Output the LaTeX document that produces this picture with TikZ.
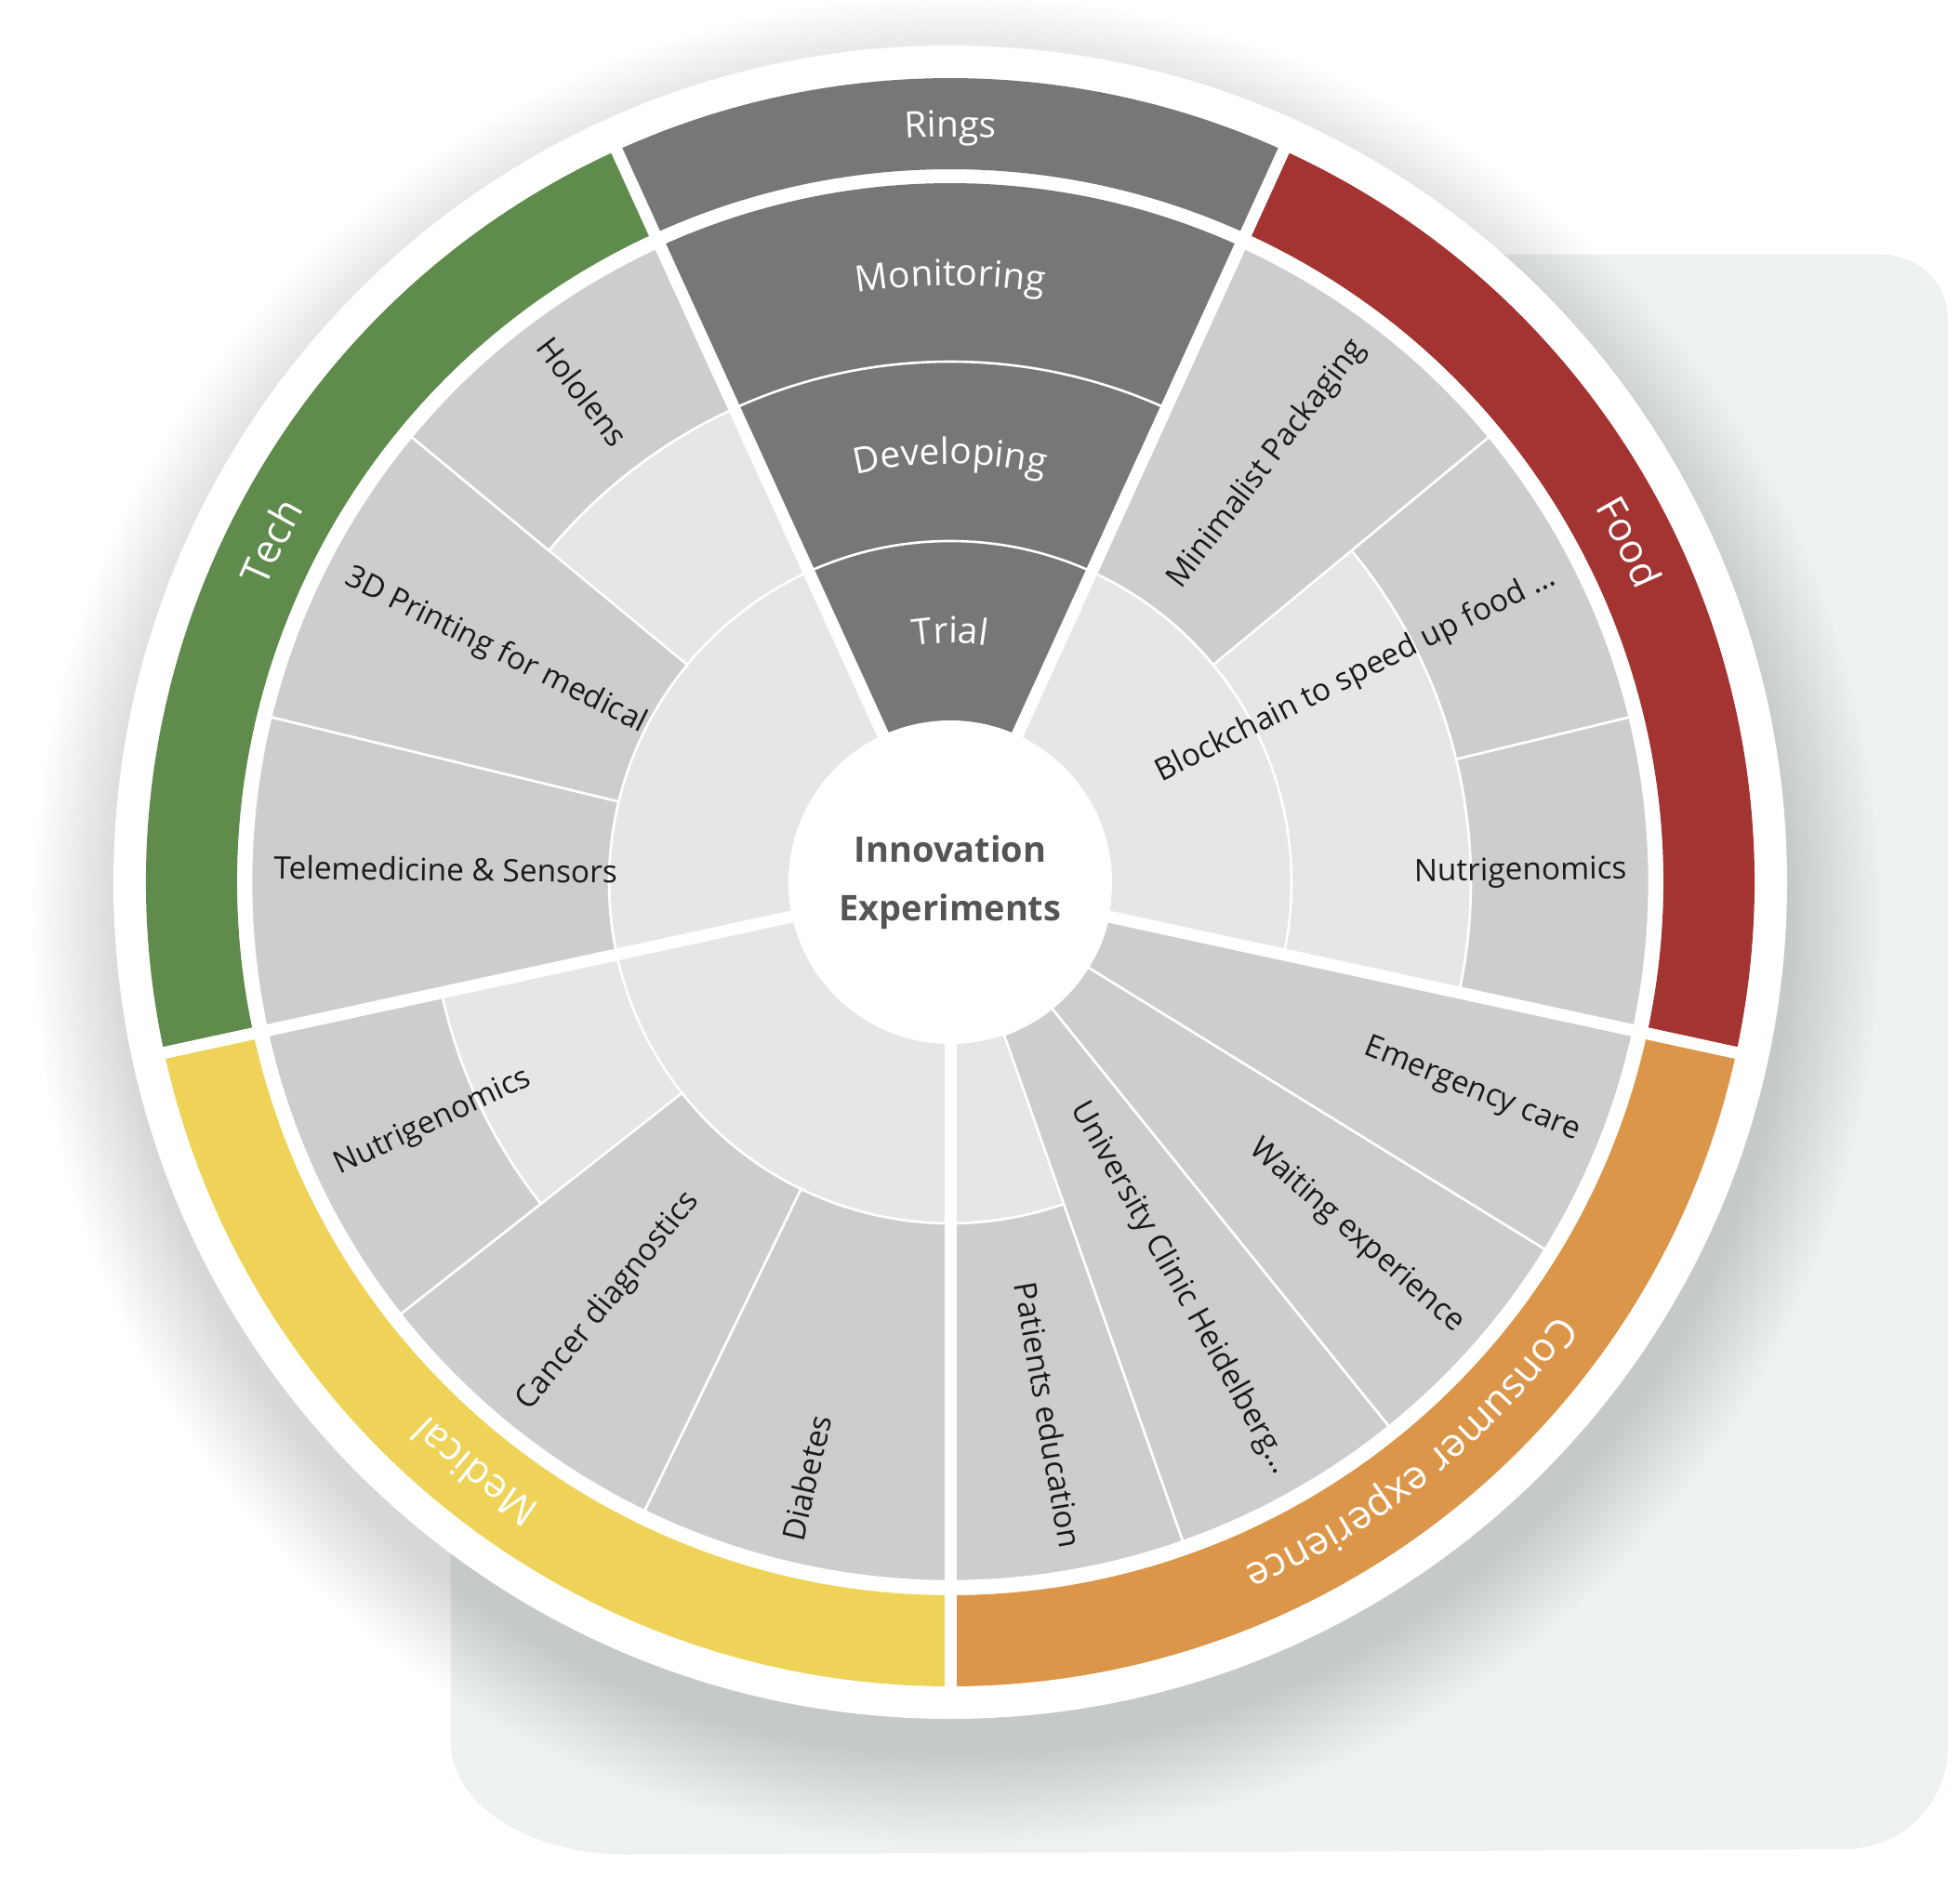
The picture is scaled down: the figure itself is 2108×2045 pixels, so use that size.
\documentclass[tikz,border=0pt]{standalone}
\usepackage{fontspec}
\setmainfont{Open Sans}
\usetikzlibrary{decorations.text}
\definecolor{techgreen}{HTML}{5F8B4C}
\definecolor{foodred}{HTML}{A33432}
\definecolor{consorange}{HTML}{DC9649}
\definecolor{medyellow}{HTML}{EED358}
\definecolor{ringgray}{HTML}{777777}
\definecolor{itemgray}{HTML}{CDCDCD}
\definecolor{lightgraytwo}{HTML}{E6E6E6}
\definecolor{bgblue}{HTML}{EEF1F1}
\definecolor{centertext}{HTML}{555555}
\definecolor{itemtext}{HTML}{1A1A1A}
% #1 style, #2 start angle, #3 end angle, #4 inner radius, #5 outer radius
\newcommand\annsector[5]{\fill[#1] (#2:#4) -- (#2:#5) arc[start angle=#2, end angle=#3, radius=#5] -- (#3:#4) arc[start angle=#3, end angle=#2, radius=#4] -- cycle;}
\newcommand\bandfont{\color{white}\fontsize{21.5}{25}\selectfont}
\newcommand\ringfont{\color{white}\fontsize{19.5}{23}\selectfont}
\tikzset{
  itemsec/.style={itemgray, draw=white, line width=1.3pt},
  thinwhite/.style={draw=white, line width=1.3pt},
  sepline/.style={draw=white, line width=6.5pt},
  itemlabel/.style={font=\fontsize{16.7}{20}\selectfont, text=itemtext, inner sep=0pt},
  leftlabel/.style={itemlabel, anchor=mid west},
  rightlabel/.style={itemlabel, anchor=mid east},
  centerlabel/.style={font=\fontsize{19}{23}\selectfont\bfseries, text=centertext, inner sep=0pt, anchor=base},
}
\begin{document}
\begin{tikzpicture}[x=0.5pt, y=0.5pt]
\useasboundingbox (-1022,-1096) rectangle (1086,949);
% background blob
\fill[bgblue] (-537,675) -- (1003,675) arc[start angle=90, end angle=0, radius=70]
  -- (1073,-930) arc[start angle=0, end angle=-90, x radius=110, y radius=110]
  -- (-347,-1046) arc[start angle=270, end angle=180, x radius=190, y radius=120] -- cycle;
% soft shadow of the halo
\foreach \k in {1,...,40} {\fill[black, opacity=0.003] (6,-40) circle[radius=895+2.5*\k];}
% white halo
\fill[white] (0,0) circle[radius=900];
% outer category bands
\annsector{ringgray}{65.5}{114.5}{767}{865}
\annsector{techgreen}{114.5}{192.25}{767}{865}
\annsector{medyellow}{192.25}{270}{767}{865}
\annsector{consorange}{270}{347.75}{767}{865}
\annsector{foodred}{347.75}{425.5}{767}{865}
% inner sectors
\annsector{ringgray}{65.5}{114.5}{170}{752}
\annsector{lightgraytwo}{114.5}{192.25}{170}{752}
\annsector{lightgraytwo}{192.25}{270}{170}{752}
\annsector{lightgraytwo}{270}{347.75}{170}{752}
\annsector{lightgraytwo}{347.75}{425.5}{170}{752}
% ring boundaries
\draw[thinwhite] (0,0) circle[radius=367];
\draw[thinwhite] (0,0) circle[radius=560];
% Tech items
\annsector{itemsec}{192.25}{166.33}{367}{752}
\annsector{itemsec}{166.33}{140.42}{367}{752}
\annsector{itemsec}{140.42}{114.5}{560}{752}
% Medical items
\annsector{itemsec}{218.17}{192.25}{560}{752}
\annsector{itemsec}{244.08}{218.17}{367}{752}
\annsector{itemsec}{270}{244.08}{367}{752}
% Consumer experience items
\annsector{itemsec}{289.44}{270}{367}{752}
\annsector{itemsec}{308.875}{289.44}{174}{752}
\annsector{itemsec}{328.31}{308.875}{174}{752}
\annsector{itemsec}{347.75}{328.31}{174}{752}
% Food items
\annsector{itemsec}{373.67}{347.75}{560}{752}
\annsector{itemsec}{399.58}{373.67}{560}{752}
\annsector{itemsec}{425.5}{399.58}{367}{752}
% category separators
\foreach \a in {65.5,114.5,192.25,270,347.75} {\draw[sepline] (\a:165) -- (\a:872);}
% centre
\fill[white] (0,0) circle[radius=174];
\node[centerlabel] (ctop) at (0,22) {Innovation};
\node[centerlabel] (cbot) at (0,-41) {Experiments};
% band labels
\path[decorate, decoration={text along path, text={|\ringfont|Rings}, text align=center}] (114.5:802) arc[start angle=114.5, end angle=65.5, radius=802];
\path[decorate, decoration={text along path, text={|\bandfont|Tech}, text align=center}] (192.25:802) arc[start angle=192.25, end angle=114.5, radius=802];
\path[decorate, decoration={text along path, text={|\bandfont|Medical}, text align=center}] (270:802) arc[start angle=270, end angle=192.25, radius=802];
\path[decorate, decoration={text along path, text={|\bandfont|Consumer experience}, text align=center}] (347.75:802) arc[start angle=347.75, end angle=270, radius=802];
\path[decorate, decoration={text along path, text={|\bandfont|Food}, text align=center}] (65.5:802) arc[start angle=65.5, end angle=-12.25, radius=802];
% ring labels
\path[decorate, decoration={text along path, text={|\ringfont|Monitoring}, text align=center}] (114.5:642) arc[start angle=114.5, end angle=65.5, radius=642];
\path[decorate, decoration={text along path, text={|\ringfont|Developing}, text align=center}] (114.5:450) arc[start angle=114.5, end angle=65.5, radius=450];
\path[decorate, decoration={text along path, text={|\ringfont|Trial}, text align=center}] (114.5:257) arc[start angle=114.5, end angle=65.5, radius=257];
% item labels, left half
\node[leftlabel, rotate=-0.71] (tele) at (179.29:728) {Telemedicine \& Sensors};
\node[leftlabel, rotate=-26.625] (print) at (153.375:728) {3D Printing for medical};
\node[leftlabel, rotate=-52.54] (holo) at (127.46:728) {Hololens};
\node[leftlabel, rotate=25.21] (mnutri) at (205.21:728) {Nutrigenomics};
\node[leftlabel, rotate=51.125] (cancer) at (231.125:728) {Cancer diagnostics};
\node[leftlabel, rotate=77.04] (diab) at (257.04:728) {Diabetes};
% item labels, right half
\node[rightlabel, rotate=279.72] (patients) at (279.72:728) {Patients education};
\node[rightlabel, rotate=299.16] (univ) at (299.16:728) {University Clinic Heidelberg…};
\node[rightlabel, rotate=318.59] (waiting) at (318.59:728) {Waiting experience};
\node[rightlabel, rotate=338.03] (emerg) at (338.03:728) {Emergency care};
\node[rightlabel, rotate=0.71] (fnutri) at (0.71:728) {Nutrigenomics};
\node[rightlabel, rotate=26.625] (block) at (26.625:728) {Blockchain to speed up food …};
\node[rightlabel, rotate=52.54] (minim) at (52.54:728) {Minimalist Packaging};
\end{tikzpicture}
\end{document}
